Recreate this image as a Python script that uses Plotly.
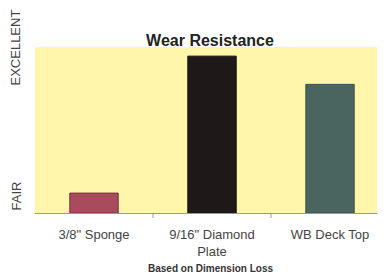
import plotly.graph_objects as go

categories = ["3/8\" Sponge", "9/16\" Diamond<br>Plate", "WB Deck Top"]
values = [12, 94.5, 77.5]
colors = ["#a84b5c", "#1f1818", "#4a655f"]
edge_colors = ["#7a3040", "#111", "#3a524c"]

# page body has an 8px margin, so the figure is sized to fit the window
W, H = 377, 268
L, T, B = 27, 39, 63
PW, PH = W - L, H - T - B

fig = go.Figure(go.Bar(
    x=[0, 1, 2], y=values, width=0.41,
    marker=dict(color=colors, line=dict(color=edge_colors, width=1)),
))

fig.update_layout(
    width=W, height=H,
    margin=dict(l=L, r=0, t=T, b=B),
    paper_bgcolor="white", plot_bgcolor="#fff6ab",
    showlegend=False,
    font=dict(family="Liberation Sans, Arial, sans-serif", color="#444", size=13),
    title=dict(text="<b>Wear Resistance</b>", x=202 / W, xanchor="center",
               y=1 - 32 / H, yanchor="middle",
               font=dict(size=16, color="#222")),
    xaxis=dict(range=[-0.5, 2.466], tickvals=[0, 1, 2], ticktext=categories,
               showgrid=False, zeroline=False, showline=True, linecolor="#999",
               ticks="", ticklabelstandoff=9, fixedrange=True),
    yaxis=dict(range=[0, 100], showticklabels=False, showgrid=False,
               zeroline=False, showline=False),
)

for xb in [0.5, 1.5]:
    fig.add_shape(type="line", xref="x", yref="paper", x0=xb, x1=xb, y0=0, y1=-5 / PH,
                  line=dict(color="#999", width=1))

fig.add_annotation(text="EXCELLENT", xref="paper", yref="paper", x=(7.5 - L) / PW,
                   y=1 + (47 - 48) / PH, xanchor="center", yanchor="middle",
                   textangle=-90, showarrow=False,
                   font=dict(size=13, color="#444"))
fig.add_annotation(text="FAIR", xref="paper", yref="paper", x=(7.5 - L) / PW,
                   y=(213 - 196) / PH, xanchor="center", yanchor="middle",
                   textangle=-90, showarrow=False, font=dict(size=13, color="#444"))
fig.add_annotation(text="<b>Based on Dimension Loss</b>", xref="paper", yref="paper",
                   x=(202 - L) / PW, y=-(268 - 213) / PH, xanchor="center", yanchor="middle",
                   showarrow=False, font=dict(size=10, color="#333"))

fig.write_html("out.html")
